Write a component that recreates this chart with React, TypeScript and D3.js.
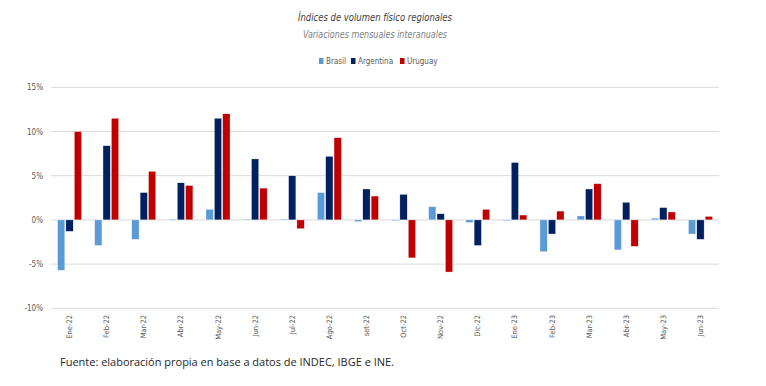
import * as d3 from "d3";
import { useEffect, useRef } from "react";

const months = [
  "Ene-22", "Feb-22", "Mar-22", "Abr-22", "May-22", "Jun-22", "Jul-22", "Ago-22", "set-22",
  "Oct-22", "Nov-22", "Dic-22", "Ene-23", "Feb-23", "Mar-23", "Abr-23", "May-23", "Jun-23",
];
const seriesNames = ["Brasil", "Argentina", "Uruguay"];
const seriesColors = ["#5b9bd5", "#002060", "#c00000"];

const brasil = [-5.7, -2.9, -2.2, 0.05, 1.2, 0.1, 0.1, 3.1, -0.2, -0.05, 1.5, -0.3, -0.05, -3.6, 0.45, -3.4, 0.2, -1.6];
const argentina = [-1.3, 8.4, 3.1, 4.2, 11.5, 6.9, 5.0, 7.2, 3.5, 2.9, 0.7, -2.9, 6.5, -1.6, 3.5, 2.0, 1.4, -2.2];
const uruguay = [10.0, 11.5, 5.5, 3.9, 12.0, 3.6, -1.0, 9.3, 2.7, -4.3, -5.9, 1.2, 0.55, 1.0, 4.1, -3.0, 0.9, 0.4];

const yTicks = [-10, -5, 0, 5, 10, 15];

export default function App() {
  const svgRef = useRef<SVGSVGElement | null>(null);

  useEffect(() => {
    if (!svgRef.current) return;
    document.body.style.margin = "0";

    const width = 766;
    const height = 386;
    const svg = d3.select(svgRef.current);
    svg.selectAll("*").remove();
    svg.attr("width", width).attr("height", height);

    const font = "Liberation Sans Narrow, DejaVu Sans Condensed, sans-serif";

    const x0 = d3.scaleBand().domain(months).range([51, 719]).padding(0);
    const x1 = d3.scaleBand().domain(seriesNames).range([6.5, 30.6]).paddingInner(0.12);
    const y = d3.scaleLinear().domain([-10, 15]).range([308.3, 87.3]);

    // gridlines
    svg.append("g")
      .selectAll("line")
      .data(yTicks)
      .enter()
      .append("line")
      .attr("x1", 51)
      .attr("x2", 719)
      .attr("y1", d => y(d))
      .attr("y2", d => y(d))
      .attr("stroke", "#d9d9d9")
      .attr("stroke-width", 1);

    // y labels
    svg.append("g")
      .selectAll("text")
      .data(yTicks)
      .enter()
      .append("text")
      .attr("x", 43)
      .attr("y", d => y(d) + 3)
      .attr("text-anchor", "end")
      .attr("font-family", font)
      .attr("font-size", 8)
      .attr("fill", "#595959")
      .text(d => `${d}%`);

    const all = [brasil, argentina, uruguay];
    const rows = months.flatMap((m, i) =>
      seriesNames.map((s, j) => ({ m, s, v: all[j][i], c: seriesColors[j] }))
    );

    // bars
    svg.append("g")
      .selectAll("rect")
      .data(rows)
      .enter()
      .append("rect")
      .attr("x", d => x0(d.m)! + x1(d.s)!)
      .attr("width", x1.bandwidth())
      .attr("y", d => Math.min(y(d.v), y(0)))
      .attr("height", d => Math.max(Math.abs(y(d.v) - y(0)), 0.8))
      .attr("fill", d => d.c)
      .attr("stroke", "#fff")
      .attr("stroke-width", 0.4);

    // x labels
    svg.append("g")
      .selectAll("text")
      .data(months)
      .enter()
      .append("text")
      .attr("transform", d => `translate(${x0(d)! + x0.bandwidth() / 2 + 2.5},315) rotate(-90)`)
      .attr("text-anchor", "end")
      .attr("font-family", font)
      .attr("font-size", 7.5)
      .attr("fill", "#595959")
      .text(d => d);

    // titles
    svg.append("text")
      .attr("x", 375)
      .attr("y", 21)
      .attr("text-anchor", "middle")
      .attr("font-family", font)
      .attr("font-style", "italic")
      .attr("font-size", 11)
      .attr("fill", "#404040")
      .attr("textLength", 154)
      .attr("lengthAdjust", "spacingAndGlyphs")
      .text("Índices de volumen físico regionales");

    svg.append("text")
      .attr("x", 375)
      .attr("y", 38)
      .attr("text-anchor", "middle")
      .attr("font-family", font)
      .attr("font-style", "italic")
      .attr("font-size", 11)
      .attr("fill", "#7f7f7f")
      .attr("textLength", 144)
      .attr("lengthAdjust", "spacingAndGlyphs")
      .text("Variaciones mensuales interanuales");

    // legend
    const legendX = [319, 351, 400];
    const legend = svg.append("g")
      .selectAll("g")
      .data(seriesNames)
      .enter()
      .append("g")
      .attr("transform", (_, i) => `translate(${legendX[i]},58)`);
    legend.append("rect")
      .attr("width", 4.5)
      .attr("height", 6)
      .attr("fill", (_, i) => seriesColors[i]);
    legend.append("text")
      .attr("x", 7)
      .attr("y", 6)
      .attr("font-family", font)
      .attr("font-size", 8)
      .attr("fill", "#595959")
      .text(d => d);

    // source
    svg.append("text")
      .attr("x", 60)
      .attr("y", 366)
      .attr("font-family", "Open Sans, sans-serif")
      .attr("font-size", 11)
      .attr("fill", "#262626")
      .attr("textLength", 334)
      .attr("lengthAdjust", "spacingAndGlyphs")
      .text("Fuente: elaboración propia en base a datos de INDEC, IBGE e INE.");
  }, []);

  return <svg ref={svgRef}></svg>;
}
